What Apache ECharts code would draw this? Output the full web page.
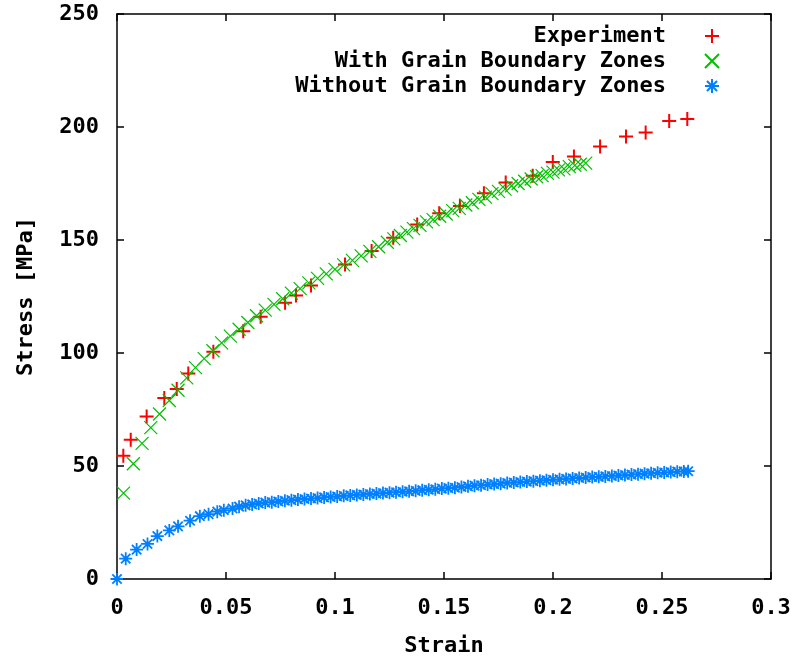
<!DOCTYPE html>
<html>
<head>
<meta charset="utf-8">
<script src="https://cdn.jsdelivr.net/npm/echarts@6/dist/echarts.min.js"></script>
<style>html,body{margin:0;padding:0;background:#fff}#c{width:801px;height:659px}</style>
</head>
<body>
<div id="c"></div>
<script>
// Experiment: [strain, stress]
var experimentStrain = [0.0029,0.0063,0.0136,0.0217,0.0274,0.0327,0.0442,0.0579,0.0659,0.0771,0.0821,0.0890,0.1046,0.1168,0.1267,0.1377,0.1478,0.1573,0.1683,0.1783,0.1907,0.1999,0.2096,0.2216,0.2335,0.2425,0.2533,0.2616];
var experimentStress = [54.5,61.6,71.9,80.1,84.1,90.9,100.5,109.6,116.0,122.2,125.4,129.9,139.2,145.1,151.0,156.9,161.8,165.0,170.7,175.4,178.4,184.5,186.9,191.4,195.8,197.6,202.7,203.5];

var withGBZStrain = [0.003,0.0075,0.0115,0.0155,0.0195,0.024,0.028,0.032,0.036,0.040,0.044,0.048,0.052,0.056,0.060,0.064,0.068,0.072,0.076,0.080,0.084,0.088,0.092,0.096,0.100,0.104,0.108,0.112,0.116,0.120,0.124,0.127,0.130,0.133,0.136,0.139,0.142,0.145,0.148,0.151,0.154,0.157,0.160,0.163,0.166,0.169,0.172,0.175,0.178,0.181,0.184,0.187,0.190,0.1925,0.195,0.1975,0.200,0.2025,0.205,0.2075,0.210,0.2125,0.215];
var withGBZStress = [38,51,60,67,73,79,83.5,89,93.5,97.5,101,104.5,107.5,110.5,113.5,116.5,119,121.5,124,126.5,128.5,131,133,135,137,139,141,143,145,147,149,150.5,152,153.5,155,156.5,158,159,160.5,161.5,163,164,165.5,166.5,168,169,170.5,171.5,172.5,174,175,176,177,178,178.5,179.5,180,181,181.5,182.5,183,183.5,184];

var withoutGBZStrain = [0,0.004,0.009,0.014,0.0185,0.024,0.028,0.0335,0.038,0.042,0.046,0.049,0.053,0.056,0.059,0.062,0.065,0.068,0.071,0.074,0.077,0.080,0.083,0.086,0.089,0.092,0.095,0.098,0.101,0.104,0.107,0.110,0.113,0.116,0.119,0.122,0.125,0.128,0.131,0.134,0.137,0.140,0.143,0.146,0.149,0.152,0.155,0.158,0.161,0.164,0.167,0.170,0.173,0.176,0.179,0.182,0.185,0.188,0.191,0.194,0.197,0.200,0.203,0.206,0.209,0.212,0.215,0.218,0.221,0.224,0.227,0.230,0.233,0.236,0.239,0.242,0.245,0.248,0.251,0.254,0.257,0.260,0.262];
var withoutGBZStress = [0,9,13,15.5,19,21.5,23.3,25.8,27.8,28.7,29.8,30.4,31.2,32,32.6,33,33.4,33.8,34,34.3,34.6,34.9,35.2,35.4,35.6,35.8,36.1,36.3,36.5,36.8,37,37.2,37.4,37.6,37.8,38,38.2,38.4,38.6,38.8,39,39.3,39.5,39.7,40,40.2,40.4,40.7,41,41.3,41.5,41.8,42,42.2,42.5,42.7,42.9,43.1,43.3,43.5,43.7,43.9,44.1,44.3,44.5,44.7,44.9,45.1,45.2,45.4,45.6,45.8,46,46.2,46.4,46.6,46.8,47,47.1,47.3,47.5,47.6,47.7];

var seriesNames = ['Experiment','With Grain Boundary Zones','Without Grain Boundary Zones'];
var xTicks = ['0','0.05','0.1','0.15','0.2','0.25','0.3'];
var yTicks = ['0','50','100','150','200','250'];

function zip(a,b){return a.map(function(v,i){return [v,b[i]];});}

var FONT = '"DejaVu Sans Mono", "Liberation Mono", monospace';
var FS = 22;
var plusPath = 'path://M0,-1L0,1M-1,0L1,0';
var crossPath = 'path://M-1,-1L1,1M-1,1L1,-1';
var starPath = 'path://M0,-1L0,1M-1,0L1,0M-0.72,-0.72L0.72,0.72M-0.72,0.72L0.72,-0.72';

var chart = echarts.init(document.getElementById('c'), null, {renderer:'canvas'});
var axisLineStyle = {color:'#000', width:1.5};
var option = {
  animation:false,
  backgroundColor:'#fff',
  grid:{left:117, right:30, top:14, bottom:80, containLabel:false, outerBoundsMode:'none'},
  legend:{
    orient:'vertical', right:76, top:20, align:'right', itemGap:3,
    itemWidth:82, itemHeight:14, symbolKeepAspect:true,
    textStyle:{fontFamily:FONT, fontWeight:'bold', fontSize:FS, color:'#000'},
    data:seriesNames
  },
  xAxis:[{
    type:'value', min:0, max:0.3, interval:0.05,
    name:'Strain', nameLocation:'middle', nameGap:56,
    nameTextStyle:{fontFamily:FONT, fontWeight:'bold', fontSize:FS, color:'#000'},
    axisLine:{show:true, onZero:false, lineStyle:axisLineStyle},
    axisTick:{show:true, inside:true, length:7, lineStyle:axisLineStyle},
    splitLine:{show:false},
    axisLabel:{margin:18, fontFamily:FONT, fontWeight:'bold', fontSize:FS, color:'#000',
      formatter:function(v){var i=Math.round(v/0.05);return xTicks[i];}}
  },{
    type:'value', min:0, max:0.3, interval:0.05, position:'top',
    axisLine:{show:true, onZero:false, lineStyle:axisLineStyle},
    axisTick:{show:true, inside:true, length:7, lineStyle:axisLineStyle},
    splitLine:{show:false}, axisLabel:{show:false}
  }],
  yAxis:[{
    type:'value', min:0, max:250, interval:50,
    name:'Stress [MPa]', nameLocation:'middle', nameGap:80, nameRotate:90,
    nameTextStyle:{fontFamily:FONT, fontWeight:'bold', fontSize:FS, color:'#000'},
    axisLine:{show:true, onZero:false, lineStyle:axisLineStyle},
    axisTick:{show:true, inside:true, length:7, lineStyle:axisLineStyle},
    splitLine:{show:false},
    axisLabel:{margin:18, fontFamily:FONT, fontWeight:'bold', fontSize:FS, color:'#000',
      formatter:function(v){return yTicks[Math.round(v/50)];}}
  },{
    type:'value', min:0, max:250, interval:50, position:'right',
    axisLine:{show:true, onZero:false, lineStyle:axisLineStyle},
    axisTick:{show:true, inside:true, length:7, lineStyle:axisLineStyle},
    splitLine:{show:false}, axisLabel:{show:false}
  }],
  series:[{
    name:seriesNames[0], type:'scatter', symbol:plusPath, symbolSize:14, clip:false,
    itemStyle:{color:'rgba(0,0,0,0)', borderColor:'#ff0000', borderWidth:2, opacity:1},
    data:zip(experimentStrain, experimentStress), z:2
  },{
    name:seriesNames[1], type:'scatter', symbol:crossPath, symbolSize:13, clip:false,
    itemStyle:{color:'rgba(0,0,0,0)', borderColor:'#00c000', borderWidth:1.2, opacity:1},
    data:zip(withGBZStrain, withGBZStress), z:3
  },{
    name:seriesNames[2], type:'scatter', symbol:starPath, symbolSize:13, clip:false,
    itemStyle:{color:'rgba(0,0,0,0)', borderColor:'#0080ff', borderWidth:1.8, opacity:1},
    data:zip(withoutGBZStrain, withoutGBZStress), z:4
  }]
};
chart.setOption(option);
</script>
</body>
</html>
